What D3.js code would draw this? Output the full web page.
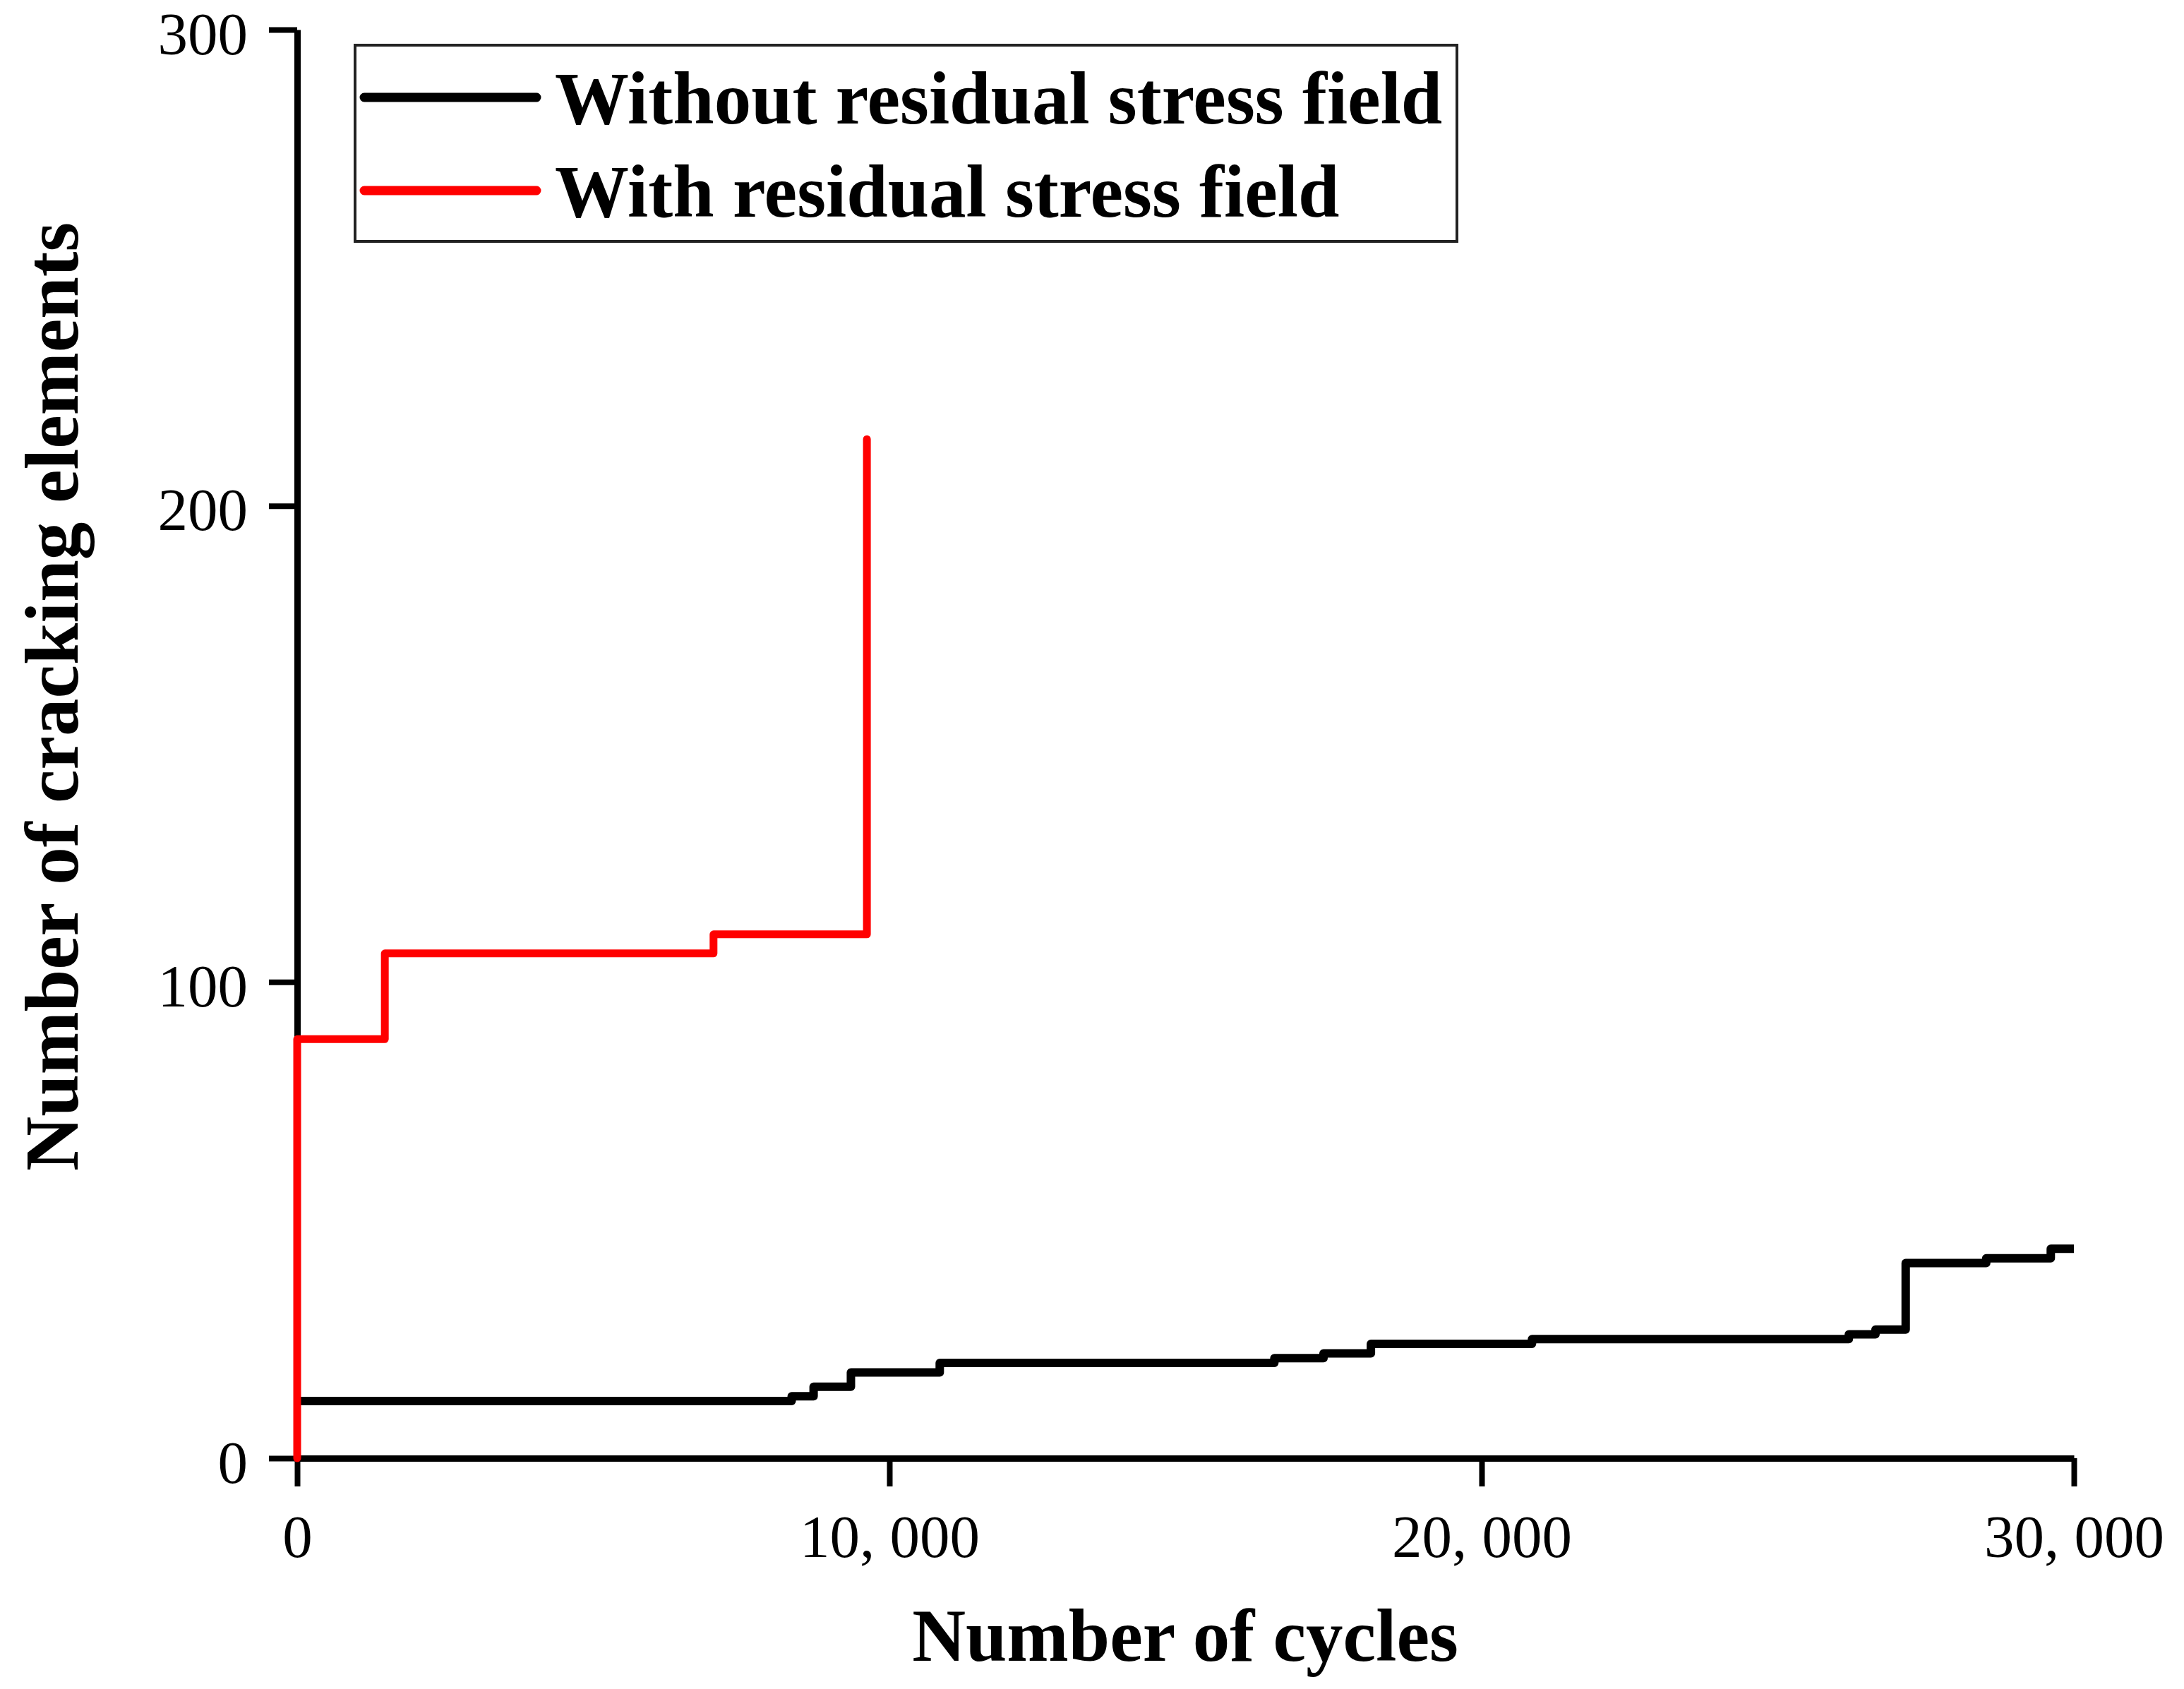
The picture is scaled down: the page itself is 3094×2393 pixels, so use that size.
<!DOCTYPE html>
<html>
<head>
<meta charset="utf-8">
<script src="https://cdn.jsdelivr.net/npm/d3@7"></script>
<style>
  html, body { margin: 0; padding: 0; background: #fff; }
  svg { display: block; }
</style>
</head>
<body>
<svg id="chart" width="3094" height="2393"></svg>
<script>
// ---- Data ----
const seriesNames = ["Without residual stress field", "With residual stress field"];
const seriesColors = ["#000000", "#ff0000"];

const withoutCycles = [0, 8350, 8720, 9350, 10850, 16500, 17330, 18130, 20850, 26200, 26650, 27160, 28520, 29610, 30000];
const withoutValues = [12, 13, 15, 18, 20, 21, 22, 24, 25, 26, 27, 41, 42, 44, 44];

const withCycles = [0, 0, 1480, 7030, 9620, 9620];
const withValues = [0, 88, 106, 110, 110, 214];

const xTicks = [0, 10000, 20000, 30000];
const yTicks = [0, 100, 200, 300];

const xTitle = "Number of cycles";
const yTitle = "Number of cracking elements";

// ---- Layout ----
const svg = d3.select("#chart");
svg.append("rect").attr("width", 3094).attr("height", 2393).attr("fill", "#fff");

const x = d3.scaleLinear().domain([0, 30000]).range([421, 2938]);
const y = d3.scaleLinear().domain([0, 300]).range([2066, 42]);

const tickFont = "'Liberation Serif', 'Times New Roman', serif";
const titleFont = "'Liberation Serif', 'Times New Roman', serif";

// ---- Series ----
const line = d3.line()
  .x(d => x(d[0]))
  .y(d => y(d[1]))
  .curve(d3.curveStepAfter);

const blackData = withoutCycles.map((c, i) => [c, withoutValues[i]]);
const redData = withCycles.map((c, i) => [c, withValues[i]]);

svg.append("path")
  .datum(blackData)
  .attr("d", line)
  .attr("fill", "none")
  .attr("stroke", seriesColors[0])
  .attr("stroke-width", 12)
  .attr("stroke-linejoin", "round")
  .attr("stroke-linecap", "butt");

// ---- Axes ----
const yAxis = d3.axisLeft(y)
  .tickValues(yTicks)
  .tickSize(40)
  .tickSizeOuter(0)
  .tickPadding(30)
  .tickFormat(d3.format("d"));

const xAxis = d3.axisBottom(x)
  .tickValues(xTicks)
  .tickSize(40)
  .tickSizeOuter(0)
  .tickPadding(40)
  .tickFormat(d => d3.format(",")(d).replace(",", ", "));

const gy = svg.append("g").attr("transform", `translate(${x(0)},0)`).call(yAxis);
const gx = svg.append("g").attr("transform", `translate(0,${y(0)})`).call(xAxis);

[gx, gy].forEach(g => {
  g.select(".domain").attr("stroke", "#000").attr("stroke-width", 9);
  g.selectAll(".tick line").attr("stroke", "#000").attr("stroke-width", 8);
  g.selectAll(".tick text")
    .attr("fill", "#000")
    .style("font-family", tickFont)
    .style("font-size", "85px");
});
gy.selectAll(".tick text").attr("dy", "0.4em");

// red series on top (covers the y axis at x=0 like the reference)
svg.append("path")
  .datum(redData)
  .attr("d", line)
  .attr("fill", "none")
  .attr("stroke", seriesColors[1])
  .attr("stroke-width", 11)
  .attr("stroke-linejoin", "round")
  .attr("stroke-linecap", "round");

// ---- Axis titles ----
svg.append("text")
  .attr("x", 1679)
  .attr("y", 2353)
  .attr("text-anchor", "middle")
  .style("font-family", titleFont)
  .style("font-weight", "bold")
  .style("font-size", "105px")
  .text(xTitle);

svg.append("text")
  .attr("transform", "translate(110,987) rotate(-90)")
  .attr("text-anchor", "middle")
  .style("font-family", titleFont)
  .style("font-weight", "bold")
  .style("font-size", "107px")
  .text(yTitle);

// ---- Legend ----
const legend = svg.append("g");
legend.append("rect")
  .attr("x", 503).attr("y", 64)
  .attr("width", 1561).attr("height", 278)
  .attr("fill", "#fff")
  .attr("stroke", "#222")
  .attr("stroke-width", 4);

const legendRows = [138, 270];
seriesNames.forEach((name, i) => {
  legend.append("line")
    .attr("x1", 516).attr("x2", 760)
    .attr("y1", legendRows[i]).attr("y2", legendRows[i])
    .attr("stroke", seriesColors[i])
    .attr("stroke-width", 13)
    .attr("stroke-linecap", "round");
  legend.append("text")
    .attr("x", 786)
    .attr("y", legendRows[i] + 37)
    .style("font-family", titleFont)
    .style("font-weight", "bold")
    .style("font-size", "105px")
    .attr("fill", "#000")
    .text(name);
});
</script>
</body>
</html>
